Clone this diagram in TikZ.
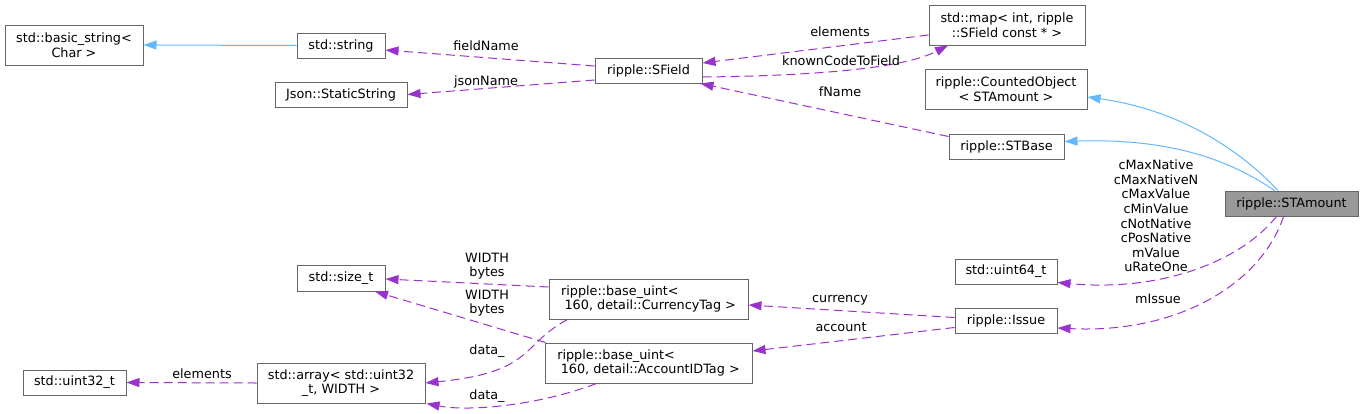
\documentclass[tikz,border=0pt]{standalone}
\usepackage{fontspec}
\setmainfont{DejaVu Sans}
\usetikzlibrary{arrows.meta}
\definecolor{edgepurple}{HTML}{9A32CD}
\definecolor{edgeblue}{HTML}{63B8FF}
\definecolor{boxgray}{HTML}{666666}
\definecolor{fillgray}{HTML}{999999}
\begin{document}
\begin{tikzpicture}[x=1pt,y=-1pt,
  cls/.style={draw=boxgray, line width=1pt, fill=white, inner sep=0pt, align=center,
    font=\fontsize{12.8}{14.6}\selectfont},
  usage/.style={draw=edgepurple, line width=1pt, dash pattern=on 9pt off 5pt,
    -{Triangle[length=13pt,width=9pt,fill=edgepurple]}},
  inherit/.style={draw=edgeblue, line width=1pt,
    -{Triangle[length=13pt,width=9pt,fill=edgeblue]}},
  lbl/.style={font=\fontsize{12.8}{14.6}\selectfont, inner sep=0pt, align=center}
]
\useasboundingbox (0,0) rectangle (1364,413);

% nodes
\node[cls, minimum width=138pt, minimum height=40pt] (bs) at (74,45) {std::basic\_string<\\Char >};
\node[cls, minimum width=88pt, minimum height=25pt] (str) at (341,45.5) {std::string};
\node[cls, minimum width=132pt, minimum height=25pt] (json) at (341,94.5) {Json::StaticString};
\node[cls, minimum width=107pt, minimum height=25pt] (sfield) at (648.5,70.5) {ripple::SField};
\node[cls, minimum width=156pt, minimum height=40pt] (map) at (1007,25) {std::map< int, ripple\\::SField const * >};
\node[cls, minimum width=162pt, minimum height=40pt] (counted) at (1006,89) {ripple::CountedObject\\< STAmount >};
\node[cls, minimum width=115pt, minimum height=25pt] (stbase) at (1006.5,146.5) {ripple::STBase};
\node[cls, fill=fillgray, minimum width=133pt, minimum height=25pt] (stamount) at (1291.5,203.5) {ripple::STAmount};
\node[cls, minimum width=102pt, minimum height=25pt] (u64) at (1006,271.5) {std::uint64\_t};
\node[cls, minimum width=102pt, minimum height=25pt] (issue) at (1006,320.5) {ripple::Issue};
\node[cls, minimum width=88pt, minimum height=26pt] (sizet) at (341,278) {std::size\_t};
\node[cls, align=left, minimum width=199pt, minimum height=40pt] (cur) at (648.5,299) {ripple::base\_uint<\\\hspace*{3.5pt}160, detail::CurrencyTag >};
\node[cls, align=left, minimum width=207pt, minimum height=40pt] (acc) at (648.5,363) {ripple::base\_uint<\\\hspace*{3.5pt}160, detail::AccountIDTag >};
\node[cls, minimum width=168pt, minimum height=40pt] (arr) at (341,383) {std::array< std::uint32\\\_t, WIDTH >};
\node[cls, minimum width=103pt, minimum height=25pt] (u32) at (74.5,382.5) {std::uint32\_t};

% inheritance
\draw[inherit] (str.west) -- (bs.east);
\draw[inherit] ([xshift=-13.5pt]stamount.north) .. controls (1240,150) and (1180,110) .. ([yshift=-8pt]counted.east);
\draw[inherit] ([xshift=-17pt]stamount.north) .. controls (1230,160) and (1170,138) .. ([yshift=5pt]stbase.east);

% usage
\draw[usage] ([yshift=4.5pt]sfield.west) -- ([yshift=-4.5pt]str.east);
\draw[usage] ([yshift=-9.5pt]sfield.west) -- (json.east);
\draw[usage] ([yshift=-10pt]map.west) -- ([yshift=7.5pt]sfield.east);
\draw[usage] ([yshift=-6.5pt]sfield.east) .. controls (800,76) and (900,70) .. ([xshift=-59pt]map.south);
\draw[usage] ([yshift=10pt]stbase.west) -- ([xshift=-2pt]sfield.south east);
\draw[usage] ([xshift=-15pt]stamount.south) .. controls (1240,262) and (1160,292) .. ([yshift=-11pt]u64.east);
\draw[usage] ([xshift=-8pt]stamount.south) .. controls (1262,282) and (1180,334) .. ([yshift=-7.5pt]issue.east);
\draw[usage] ([yshift=3pt]issue.west) -- ([yshift=-6pt]cur.east);
\draw[usage] ([yshift=-7pt]issue.west) -- ([yshift=12pt]acc.east);
\draw[usage] ([yshift=12pt]cur.west) -- ([yshift=-1pt]sizet.east);
\draw[usage] ([xshift=1pt]acc.north west) -- ([xshift=34pt]sizet.south);
\draw[usage] ([xshift=-81pt]cur.south) .. controls (520,345) and (535,372) .. (arr.east);
\draw[usage] ([xshift=-52pt]acc.south) .. controls (540,405) and (470,412) .. ([xshift=1pt]arr.south east);
\draw[usage] (arr.west) -- (u32.east);

% labels
\node[lbl] (l1) at (486,46) {fieldName};
\node[lbl] (l2) at (486,82) {jsonName};
\node[lbl] (l3) at (840,32) {elements};
\node[lbl] (l4) at (841,61) {knownCodeToField};
\node[lbl] (l5) at (840,92) {fName};
\node[lbl] (l6) at (1156,216) {cMaxNative\\cMaxNativeN\\cMaxValue\\cMinValue\\cNotNative\\cPosNative\\mValue\\uRateOne};
\node[lbl] (l7) at (1158,299) {mIssue};
\node[lbl] (l8) at (840,300) {currency};
\node[lbl] (l9) at (841,327) {account};
\node[lbl] (l10) at (487,266) {WIDTH\\bytes};
\node[lbl] (l11) at (487,303) {WIDTH\\bytes};
\node[lbl] (l12) at (487,351) {data\_};
\node[lbl] (l13) at (487,396) {data\_};
\node[lbl] (l14) at (202,374) {elements};
\end{tikzpicture}
\end{document}
